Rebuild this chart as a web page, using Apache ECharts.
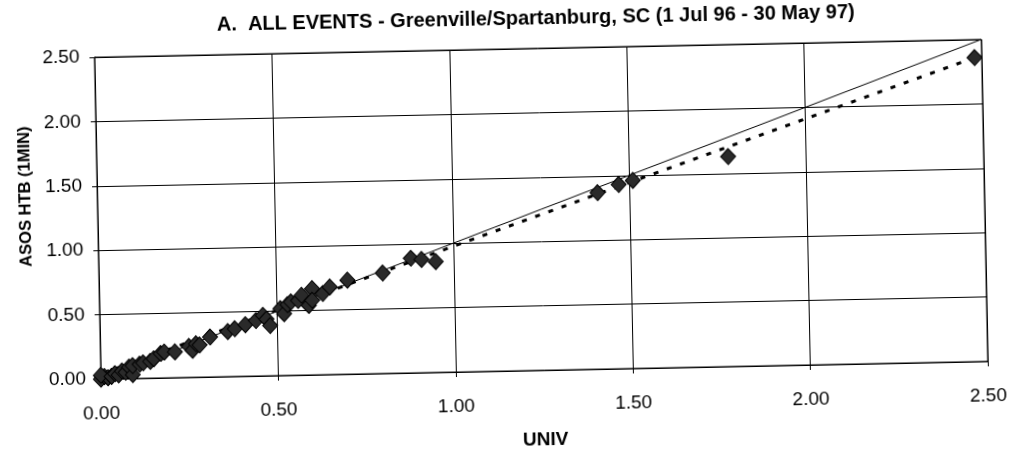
<!DOCTYPE html>
<html>
<head>
<meta charset="utf-8">
<script src="https://cdn.jsdelivr.net/npm/echarts@6/dist/echarts.min.js"></script>
<style>
  html, body { margin: 0; padding: 0; background: #fff; overflow: hidden; }
  #chart { width: 1013px; height: 459px; transform: rotate(-1.15deg); transform-origin: 506px 229.5px; }
</style>
</head>
<body>
<div id="chart"></div>
<script>
// ---- data ----
const titleText = 'A.  ALL EVENTS - Greenville/Spartanburg, SC (1 Jul 96 - 30 May 97)';
const xName = 'UNIV';
const yName = 'ASOS HTB (1MIN)';
const axisTicks = [0, 0.5, 1.0, 1.5, 2.0, 2.5];

const univ = [0.00,0.01,0.02,0.00,0.03,0.04,0.05,0.06,0.07,0.08,0.09,0.09,0.11,0.12,0.14,0.15,0.17,0.18,0.21,0.25,0.26,0.27,0.28,0.31,0.36,0.38,0.41,0.44,0.46,0.47,0.48,0.51,0.52,0.53,0.54,0.56,0.57,0.59,0.60,0.60,0.63,0.65,0.70,0.80,0.88,0.91,0.95,1.41,1.47,1.51,1.78,2.48];
const asos = [0.00,0.02,0.01,0.03,0.02,0.04,0.03,0.06,0.05,0.09,0.03,0.10,0.11,0.12,0.13,0.15,0.19,0.20,0.20,0.24,0.21,0.26,0.25,0.31,0.35,0.37,0.40,0.43,0.47,0.44,0.39,0.52,0.48,0.55,0.57,0.58,0.62,0.54,0.67,0.58,0.63,0.68,0.73,0.78,0.89,0.88,0.86,1.37,1.43,1.46,1.63,2.36];

// 1:1 reference line endpoints
const oneToOneX = [0, 2.5];
const oneToOneY = [0, 2.5];
// dotted fit line endpoints
const fitX = [0.00, 2.48];
const fitY = [0.04, 2.36];

const FONT = "'Liberation Sans', Arial, sans-serif";

const chart = echarts.init(document.getElementById('chart'), null, { renderer: 'canvas' });

const axisCommon = {
  type: 'value',
  min: axisTicks[0],
  max: axisTicks[axisTicks.length - 1],
  interval: axisTicks[1] - axisTicks[0],
  axisLine: { show: true, lineStyle: { color: '#000', width: 1 } },
  axisTick: { show: true, length: 5, inside: false, lineStyle: { color: '#000', width: 1 } },
  splitLine: { show: true, lineStyle: { color: '#000', width: 1 } },
  axisLabel: {
    color: '#000', fontFamily: FONT, fontSize: 19,
    formatter: v => v.toFixed(2)
  }
};

chart.setOption({
  animation: false,
  backgroundColor: '#fff',
  title: {
    text: titleText,
    left: 535, top: 4, textAlign: 'center',
    textStyle: { fontFamily: FONT, fontSize: 20, fontWeight: 'bold', color: '#000' }
  },
  grid: {
    left: 98, right: 28, top: 49, bottom: 88,
    show: true, borderColor: '#000', borderWidth: 1, backgroundColor: '#fff'
  },
  xAxis: Object.assign({}, axisCommon, {
    name: xName, nameLocation: 'middle', nameGap: 60,
    nameTextStyle: { fontFamily: FONT, fontSize: 19, fontWeight: 'bold', color: '#000' },
    axisLabel: Object.assign({}, axisCommon.axisLabel, { margin: 25 })
  }),
  yAxis: Object.assign({}, axisCommon, {
    name: yName, nameLocation: 'middle', nameGap: 54,
    nameTextStyle: { fontFamily: FONT, fontSize: 16.5, fontWeight: 'bold', color: '#000', padding: [0, 0, 0, 46] },
    axisLabel: Object.assign({}, axisCommon.axisLabel, { margin: 15 })
  }),
  series: [
    {
      type: 'line', name: '1:1',
      data: oneToOneX.map((x, i) => [x, oneToOneY[i]]),
      symbol: 'none', silent: true, z: 2,
      lineStyle: { color: '#000', width: 1 }
    },
    {
      type: 'line', name: 'fit',
      data: fitX.map((x, i) => [x, fitY[i]]),
      symbol: 'none', silent: true, z: 2,
      lineStyle: { color: '#000', width: 3, type: [5, 9] }
    },
    {
      type: 'scatter', name: 'events',
      data: univ.map((x, i) => [x, asos[i]]),
      symbol: 'diamond', symbolSize: [15, 16], z: 3,
      itemStyle: { color: '#2a2a2a', borderColor: '#000', borderWidth: 1, opacity: 1 }
    }
  ]
});
</script>
</body>
</html>
